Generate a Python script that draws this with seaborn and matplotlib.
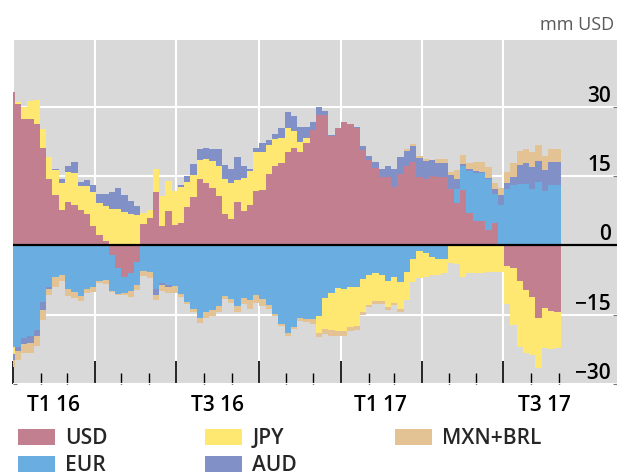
import numpy as np
import pandas as pd
import matplotlib
matplotlib.use("Agg")
import matplotlib.pyplot as plt
import matplotlib.dates as mdates
import matplotlib.transforms as mtransforms
import seaborn as sns

# Weekly positions (bn USD); the first week is only partly inside the axis
week_start = "2015-12-27"

usd = [33.3, 30.6, 27.3, 27.4, 26.4, 21.2, 14.5, 11.0, 7.7, 9.4,
       8.8, 7.7, 6.9, 4.2, 2.2, 1.0, -2.1, -4.8, -6.8, -6.0,
       -3.6, 4.6, 5.9, 11.5, 4.2, 7.5, 4.4, 4.9, 8.3, 10.6,
       14.3, 13.6, 12.4, 10.7, 6.8, 5.8, 9.4, 7.5, 8.8, 11.8,
       12.0, 15.4, 17.2, 17.9, 20.3, 21.2, 20.3, 22.1, 25.1, 28.2,
       28.2, 23.7, 25.5, 26.7, 26.4, 25.5, 20.7, 18.5, 16.7, 14.8,
       14.8, 12.6, 15.5, 17.2, 18.1, 14.9, 14.5, 15.1, 14.8, 14.8,
       12.2, 9.1, 12.0, 7.0, 5.3, 5.3, 3.4, 4.8, 0.3, -4.5,
       -4.9, -7.8, -9.6, -11.1, -15.8, -13.5, -14.1, -14.5]

eur = [-21.9, -21.9, -20.1, -19.5, -18.4, -12.2, -9.1, -6.9, -6.5, -9.5,
       -10.0, -10.9, -9.4, -9.1, -7.7, -7.4, -7.7, -5.7, -3.5, -3.8,
       -4.9, -5.5, -5.7, -9.5, -8.2, -8.5, -8.8, -10.5, -12.2, -13.7,
       -15.8, -14.5, -14.0, -13.2, -10.9, -11.6, -13.1, -11.4, -11.9, -10.7,
       -11.6, -12.9, -14.9, -17.1, -19.0, -17.6, -15.8, -16.0, -16.0, -15.2,
       -11.4, -10.2, -9.3, -9.4, -8.9, -9.1, -7.2, -6.3, -6.0, -6.3,
       -7.8, -6.9, -8.0, -5.7, -3.0, -1.2, -1.6, -2.6, -3.0, -2.9,
       0.0, 3.1, 5.2, 9.2, 10.5, 10.3, 11.0, 6.3, 8.5, 12.2,
       13.2, 13.3, 13.3, 12.2, 13.8, 11.9, 13.1, 13.0]

jpy = [-1.7, 0.4, 2.6, 3.8, 5.1, 4.0, 4.7, 5.3, 5.8, 6.6,
       6.9, 5.1, 5.9, 7.4, 7.1, 7.6, 8.0, 7.9, 7.2, 6.8,
       6.7, 2.4, 1.8, 5.1, 6.6, 6.5, 7.4, 7.8, 5.5, 4.7,
       4.2, 5.1, 6.0, 6.5, 7.5, 7.7, 4.8, 7.2, 7.3, 8.4,
       8.3, 6.4, 5.9, 5.3, 5.2, 3.7, 2.2, 1.2, 0.0, -3.7,
       -6.7, -8.1, -9.2, -9.1, -8.8, -8.4, -7.1, -6.5, -6.0, -5.8,
       -5.6, -5.5, -5.8, -6.0, -5.0, -5.9, -5.2, -3.8, -3.4, -3.1,
       -3.7, -4.1, -6.8, -5.9, -5.9, -6.0, -5.7, -5.7, -5.7, -8.1,
       -12.3, -14.1, -13.6, -12.6, -10.8, -8.8, -8.4, -7.7]

aud = [-1.1, -0.9, -1.3, -1.7, -1.2, -1.7, -0.4, 0.3, 0.9, 1.2,
       2.3, 0.9, 1.4, 1.6, 1.9, 2.6, 3.5, 4.5, 3.8, 2.8,
       1.8, 0.0, 0.0, -1.2, -0.4, -0.5, 0.0, 0.4, 1.3, 2.3,
       2.5, 2.4, 2.6, 3.8, 3.2, 3.1, 5.0, 2.5, 0.5, 1.0,
       1.8, 1.0, 1.0, 2.3, 3.3, 3.1, 3.1, 2.3, 1.6, 1.7,
       0.9, 0.2, 0.0, 0.0, 0.0, 0.2, 0.8, 0.9, 1.3, 1.8,
       2.5, 4.0, 3.7, 3.3, 3.4, 4.0, 3.9, 3.4, 3.1, 3.1,
       3.1, 2.1, 0.4, 0.3, 0.3, 0.3, 0.3, 1.1, 2.1, 1.3,
       1.7, 4.1, 4.6, 4.9, 4.6, 4.4, 4.9, 5.1]

mxn_brl = [-1.7, -1.9, -1.9, -2.0, -2.2, -2.3, -1.2, -2.0, -1.2, -1.4,
           -1.4, -1.2, -0.9, -0.9, -0.5, -0.9, -0.2, -0.3, -0.4, -1.3,
           -1.2, -1.1, -1.4, -1.2, -1.3, -1.3, -1.4, -0.7, -0.5, -0.7,
           -0.9, -1.3, -1.2, -1.1, -0.7, -0.8, -1.2, -1.3, -1.9, -1.8,
           -1.6, -0.9, -0.3, -0.4, -0.5, -0.4, -0.6, -0.5, -0.9, -1.0,
           -1.1, -1.2, -1.0, -1.1, -0.9, -0.9, -0.7, -0.6, -0.6, -0.5,
           -0.6, -0.5, -0.6, 0.3, 0.5, 0.5, 0.3, 0.0, 0.8, 0.8,
           0.7, 2.0, 2.1, 1.3, 2.0, 2.2, 2.4, 1.3, 1.6, 2.5,
           2.9, 3.1, 3.1, 3.2, 3.4, 3.1, 2.9, 2.9]

currencies = ["USD", "EUR", "JPY", "AUD", "MXN+BRL"]
colors = ["#C27F8F", "#6AADE0", "#FFE872", "#8290C8", "#E3C393"]

quarter_starts = ["2016-01-01", "2016-04-01", "2016-07-01", "2016-10-01",
                  "2017-01-01", "2017-04-01", "2017-07-01"]
quarter_labels = ["T1 16", "T3 16", "T1 17", "T3 17"]
label_dates = ["2016-02-15", "2016-08-16", "2017-02-14", "2017-08-16"]
y_ticks = [-30, -15, 0, 15, 30]
y_labels = ["\u221230", "\u221215", "0", "15", "30"]

sns.set_theme(style="whitegrid", rc={
    "axes.facecolor": "#D9D9D9",
    "grid.color": "white",
    "grid.linewidth": 1.5,
})
plt.rcParams["font.family"] = ["Open Sans", "DejaVu Sans"]
plt.rcParams["font.weight"] = "semibold"

fig = plt.figure(figsize=(6.17, 4.72), dpi=100)
ax = fig.add_axes([13 / 617, 1 - 384 / 472, 604 / 617, 344 / 472])
ax.set_axisbelow(True)

weeks = pd.date_range(week_start, periods=len(usd), freq="7D")
x = mdates.date2num(weeks.to_pydatetime())

# stack positives upward and negatives downward, same currency order
pos_base = np.zeros(len(x))
neg_base = np.zeros(len(x))
handles = []
for name, vals, col in zip(currencies, [usd, eur, jpy, aud, mxn_brl], colors):
    v = np.asarray(vals, dtype=float)
    up = np.where(v > 0, v, 0.0)
    down = np.where(v < 0, v, 0.0)
    h = ax.bar(x, up, width=7, bottom=pos_base, align="edge", color=col,
               linewidth=0, label=name)
    ax.bar(x, down, width=7, bottom=neg_base, align="edge", color=col,
           linewidth=0)
    pos_base += up
    neg_base += down
    handles.append(h)

ax.axhline(0, color="black", linewidth=1.6, zorder=4)

x0 = mdates.date2num(pd.Timestamp("2016-01-01").to_pydatetime())
ax.set_xlim(x0, x0 + 674)
ax.set_ylim(-30, 44.5)

major = mdates.date2num(pd.to_datetime(quarter_starts).to_pydatetime())
minor = mdates.date2num(pd.date_range("2016-02-01", "2017-09-01", freq="MS").to_pydatetime())
ax.set_xticks(major)
ax.set_xticks(minor, minor=True)
ax.xaxis.grid(True, which="major")
ax.xaxis.grid(False, which="minor")
ax.tick_params(axis="x", which="major", direction="in", length=16.5, width=1.2,
               color="black", bottom=True, labelbottom=False)
ax.tick_params(axis="x", which="minor", direction="in", length=8, width=1.0,
               color="black", bottom=True, labelbottom=False)

ax.set_yticks(y_ticks)
ax.tick_params(axis="y", direction="in", length=3, width=0.8, color="#777777",
               left=True, right=True, labelleft=False, labelright=False)
for s in ax.spines.values():
    s.set_visible(False)

trans = mtransforms.blended_transform_factory(ax.transAxes, ax.transData)
for val, lab in zip(y_ticks, y_labels):
    ax.text(0.990, val, lab, transform=trans, ha="right", va="bottom",
            fontsize=15, color="black")

sec = ax.secondary_xaxis("bottom")
sec.set_xticks(mdates.date2num(pd.to_datetime(label_dates).to_pydatetime()), quarter_labels)
sec.tick_params(length=0, pad=8, labelsize=15, colors="black")
sec.spines["bottom"].set_visible(False)

fig.text(614 / 617, 1 - 30 / 472, "mm USD", ha="right", va="baseline",
         fontsize=13, color="#595959", fontweight="normal")

fig.legend(handles, currencies, loc="upper left",
           bbox_to_anchor=(17.7 / 617, 1 - 428 / 472), ncol=3, frameon=False,
           fontsize=15, handlelength=1.78, handleheight=0.77, handletextpad=0.48,
           columnspacing=4.7, labelspacing=0.3, borderpad=0, borderaxespad=0)

fig.savefig("out.png", dpi=100)
